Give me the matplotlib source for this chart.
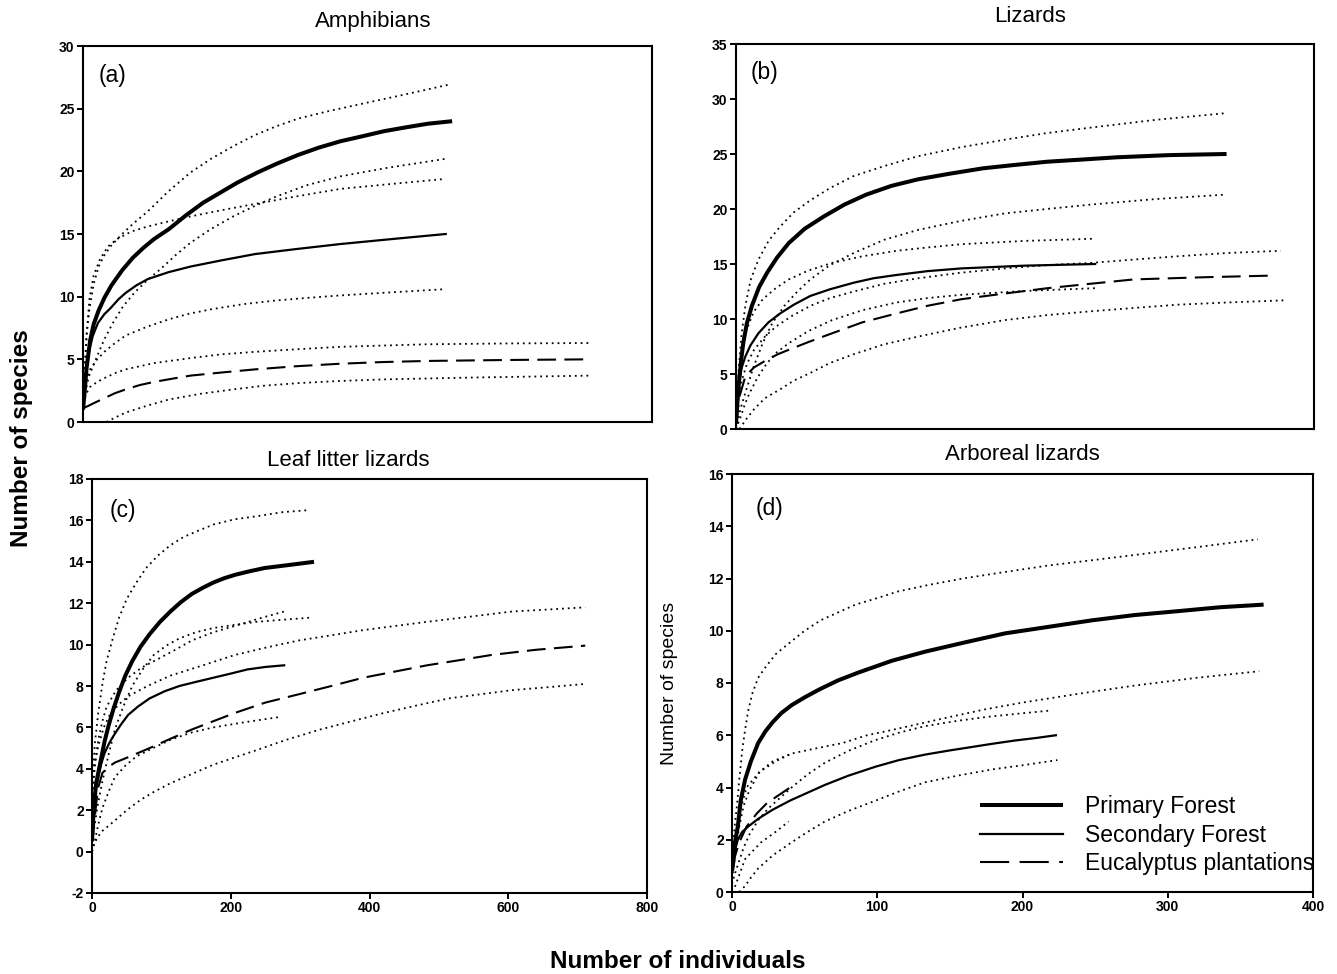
import matplotlib
matplotlib.use("Agg")
import matplotlib.pyplot as plt
from matplotlib.lines import Line2D

plt.rcParams['font.family'] = ['Liberation Sans', 'DejaVu Sans']

W, H = 1337, 974

# ---------------- (a) Amphibians ----------------
amph_pf_x = [0, 2, 5, 10, 15, 22, 30, 40, 55, 70, 85, 100, 121, 145, 169, 193, 217, 245, 272, 302, 332, 362, 393, 423, 453, 485, 519]
amph_pf_y = [1.0, 2.2, 4.3, 6.5, 7.8, 8.9, 9.9, 10.9, 12.1, 13.1, 13.9, 14.6, 15.4, 16.5, 17.5, 18.3, 19.1, 19.9, 20.6, 21.3, 21.9, 22.4, 22.8, 23.2, 23.5, 23.8, 24.0]
amph_sf_x = [0, 3, 6, 9, 14, 21, 30, 39, 50, 60, 75, 91, 120, 151, 195, 242, 300, 362, 435, 510]
amph_sf_y = [1.0, 3.1, 4.7, 5.8, 6.9, 7.9, 8.6, 9.1, 9.8, 10.3, 10.9, 11.4, 11.95, 12.4, 12.9, 13.4, 13.8, 14.2, 14.6, 15.0]
amph_ep_x = [0, 8, 15, 30, 45, 60, 80, 100, 125, 151, 195, 242, 300, 362, 420, 483, 600, 713]
amph_ep_y = [1.1, 1.3, 1.5, 1.9, 2.3, 2.6, 2.95, 3.2, 3.45, 3.7, 3.95, 4.2, 4.45, 4.65, 4.78, 4.87, 4.95, 5.0]
amph_pf_hi_x = [0, 2, 5, 9, 15, 22, 30, 40, 55, 70, 91, 120, 151, 180, 211, 242, 272, 302, 345, 393, 450, 513]
amph_pf_hi_y = [1.0, 4.0, 7.0, 9.0, 11.0, 12.4, 13.3, 14.1, 15.0, 15.8, 16.8, 18.4, 19.9, 21.0, 22.0, 22.9, 23.6, 24.2, 24.8, 25.4, 26.1, 26.9]
amph_pf_lo_x = [0, 3, 8, 18, 30, 42, 56, 72, 90, 109, 130, 151, 180, 211, 240, 272, 315, 362, 430, 510]
amph_pf_lo_y = [0.5, 2.3, 3.6, 5.0, 6.6, 7.9, 9.2, 10.3, 11.3, 12.2, 13.3, 14.3, 15.4, 16.4, 17.2, 18.0, 18.9, 19.6, 20.3, 21.0]
amph_sf_hi_x = [0, 2, 5, 9, 15, 24, 35, 48, 68, 91, 120, 151, 195, 242, 300, 362, 435, 510]
amph_sf_hi_y = [1.0, 3.1, 6.8, 9.8, 11.7, 13.0, 14.0, 14.6, 15.2, 15.6, 16.0, 16.4, 16.9, 17.4, 18.0, 18.6, 19.0, 19.4]
amph_sf_lo_x = [0, 3, 10, 20, 30, 45, 60, 90, 121, 150, 181, 225, 272, 315, 362, 435, 510]
amph_sf_lo_y = [1.0, 3.0, 4.2, 5.0, 5.6, 6.3, 6.9, 7.6, 8.2, 8.65, 9.0, 9.4, 9.7, 9.9, 10.1, 10.35, 10.6]
amph_ep_hi_x = [0, 5, 10, 20, 30, 45, 60, 100, 151, 195, 242, 300, 362, 483, 600, 713]
amph_ep_hi_y = [1.5, 2.3, 2.8, 3.2, 3.5, 3.9, 4.2, 4.7, 5.1, 5.4, 5.6, 5.8, 6.0, 6.2, 6.27, 6.3]
amph_ep_lo_x = [33, 45, 60, 90, 121, 165, 211, 255, 302, 360, 423, 550, 713]
amph_ep_lo_y = [0, 0.35, 0.75, 1.3, 1.8, 2.25, 2.6, 2.9, 3.1, 3.27, 3.4, 3.55, 3.7]

# ---------------- (b) Lizards ----------------
liz_pf_x = [0, 2, 4, 7, 10, 15, 22, 32, 43, 57, 73, 95, 121, 150, 180, 215, 252, 295, 342, 385, 431, 480, 527, 600, 679]
liz_pf_y = [0.5, 2.5, 4.2, 6.2, 7.8, 9.6, 11.2, 12.9, 14.2, 15.6, 16.9, 18.2, 19.3, 20.4, 21.3, 22.1, 22.7, 23.2, 23.7, 24.0, 24.3, 24.5, 24.7, 24.9, 25.0]
liz_sf_x = [0, 2, 4, 8, 13, 20, 31, 45, 61, 80, 103, 130, 163, 190, 222, 265, 312, 400, 497]
liz_sf_y = [0.5, 2.8, 4.2, 5.6, 6.6, 7.6, 8.7, 9.7, 10.5, 11.3, 12.1, 12.7, 13.3, 13.7, 14.0, 14.35, 14.6, 14.85, 15.0]
liz_ep_x = [0, 5, 13, 25, 43, 58, 73, 100, 133, 175, 222, 265, 312, 370, 431, 490, 551, 650, 745]
liz_ep_y = [0.5, 3.0, 4.8, 5.6, 6.3, 6.8, 7.2, 7.9, 8.7, 9.7, 10.5, 11.2, 11.8, 12.3, 12.8, 13.2, 13.6, 13.8, 13.95]
liz_pf_hi_x = [0, 2, 4, 8, 13, 20, 31, 45, 61, 80, 103, 130, 163, 205, 252, 310, 372, 430, 491, 580, 676]
liz_pf_hi_y = [0.5, 3.5, 5.7, 8.8, 11.2, 13.5, 15.4, 17.1, 18.4, 19.7, 20.8, 21.9, 23.0, 23.9, 24.8, 25.6, 26.3, 26.9, 27.4, 28.1, 28.7]
liz_pf_lo_x = [0, 6, 13, 24, 37, 50, 67, 85, 103, 130, 163, 205, 252, 310, 372, 430, 491, 580, 676]
liz_pf_lo_y = [0, 1.8, 3.3, 5.6, 7.8, 9.6, 11.2, 12.5, 13.6, 14.9, 16.0, 17.2, 18.1, 18.9, 19.6, 20.0, 20.4, 20.9, 21.3]
liz_sf_hi_x = [0, 4, 8, 13, 24, 37, 55, 73, 100, 133, 175, 222, 265, 312, 400, 497]
liz_sf_hi_y = [0.5, 4.5, 6.8, 8.7, 10.6, 11.8, 12.8, 13.6, 14.4, 15.1, 15.7, 16.2, 16.5, 16.8, 17.1, 17.3]
liz_sf_lo_x = [0, 7, 12, 19, 30, 43, 57, 73, 100, 133, 175, 222, 265, 312, 400, 497]
liz_sf_lo_y = [0, 1.2, 2.2, 3.3, 4.7, 6.0, 7.0, 7.8, 8.9, 9.9, 10.8, 11.5, 11.9, 12.2, 12.55, 12.8]
liz_ep_hi_x = [0, 3, 7, 15, 25, 40, 55, 78, 103, 130, 163, 205, 252, 310, 372, 430, 491, 550, 611, 680, 754]
liz_ep_hi_y = [0.5, 2.5, 4.2, 5.9, 7.2, 8.4, 9.3, 10.3, 11.2, 11.9, 12.5, 13.2, 13.7, 14.2, 14.6, 14.9, 15.1, 15.4, 15.7, 16.0, 16.2]
liz_ep_lo_x = [5, 13, 25, 40, 61, 80, 103, 130, 163, 205, 252, 310, 372, 430, 491, 550, 611, 680, 760]
liz_ep_lo_y = [0, 0.8, 1.8, 2.8, 3.6, 4.4, 5.1, 6.0, 6.8, 7.7, 8.4, 9.2, 9.9, 10.35, 10.7, 11.0, 11.3, 11.5, 11.7]

# ---------------- (c) Leaf litter lizards ----------------
ll_pf_x = [0, 2.5, 6, 12, 18, 24, 31, 39, 48, 58, 70, 83, 98, 113, 128, 144, 160, 175, 190, 206, 228, 249, 285, 320]
ll_pf_y = [0.5, 2.1, 3.3, 4.3, 5.3, 6.1, 6.9, 7.7, 8.5, 9.2, 9.9, 10.5, 11.1, 11.6, 12.05, 12.45, 12.75, 13.0, 13.2, 13.37, 13.55, 13.7, 13.85, 14.0]
ll_sf_x = [0, 1, 4, 9, 13, 18, 25, 33, 42, 52, 66, 83, 105, 126, 150, 175, 200, 224, 250, 277]
ll_sf_y = [0.5, 1.8, 2.8, 3.6, 4.2, 4.75, 5.25, 5.7, 6.15, 6.6, 7.0, 7.4, 7.75, 8.0, 8.2, 8.4, 8.6, 8.8, 8.92, 9.0]
ll_ep_x = [0, 3, 6, 9, 15, 24, 33, 55, 83, 113, 144, 175, 206, 250, 298, 345, 391, 437, 483, 530, 576, 640, 711]
ll_ep_y = [0.5, 1.3, 2.3, 3.1, 3.8, 4.1, 4.3, 4.6, 5.0, 5.45, 5.9, 6.3, 6.7, 7.2, 7.6, 8.0, 8.4, 8.7, 9.0, 9.25, 9.5, 9.75, 9.95]
ll_pf_hi_x = [0, 1, 4, 9, 15, 21, 30, 39, 50, 64, 78, 95, 113, 132, 153, 175, 205, 237, 275, 314]
ll_pf_hi_y = [0.5, 3.4, 5.2, 6.7, 8.1, 9.2, 10.3, 11.3, 12.2, 13.0, 13.7, 14.3, 14.8, 15.2, 15.5, 15.8, 16.05, 16.2, 16.4, 16.5]
ll_pf_lo_x = [0, 2.5, 8, 15, 24, 33, 45, 58, 73, 89, 107, 126, 150, 175, 205, 237, 275, 314]
ll_pf_lo_y = [0, 1.0, 2.2, 3.4, 4.7, 5.9, 7.0, 8.0, 8.8, 9.5, 9.95, 10.3, 10.6, 10.8, 10.95, 11.1, 11.2, 11.3]
ll_sf_hi_x = [0, 1, 4, 9, 15, 21, 35, 52, 72, 95, 120, 144, 175, 206, 240, 277]
ll_sf_hi_y = [0.5, 2.6, 4.1, 5.4, 6.3, 7.0, 7.8, 8.4, 8.9, 9.3, 9.75, 10.2, 10.6, 10.9, 11.25, 11.6]
ll_sf_lo_x = [0, 4, 9, 15, 24, 33, 48, 64, 88, 113, 143, 175, 220, 270]
ll_sf_lo_y = [0, 0.5, 1.3, 2.1, 2.9, 3.6, 4.15, 4.6, 5.0, 5.4, 5.75, 6.0, 6.25, 6.5]
ll_ep_hi_x = [0, 1, 4, 9, 17, 27, 40, 52, 80, 113, 160, 206, 250, 298, 345, 391, 437, 483, 545, 606, 660, 711]
ll_ep_hi_y = [0.5, 3.4, 4.3, 5.1, 6.0, 6.7, 7.15, 7.5, 8.0, 8.5, 9.0, 9.5, 9.85, 10.2, 10.45, 10.7, 10.9, 11.1, 11.35, 11.6, 11.7, 11.8]
ll_ep_lo_x = [0, 2.5, 8, 15, 24, 33, 50, 70, 90, 113, 144, 175, 206, 237, 280, 329, 375, 421, 467, 514, 560, 606, 660, 711]
ll_ep_lo_y = [0, 0.3, 0.7, 1.0, 1.25, 1.5, 2.0, 2.5, 2.9, 3.3, 3.75, 4.2, 4.55, 4.9, 5.4, 5.9, 6.3, 6.7, 7.05, 7.4, 7.6, 7.8, 7.95, 8.1]

# ---------------- (d) Arboreal lizards ----------------
arb_pf_x = [0, 1, 2, 4, 6, 9, 13, 18, 23, 28, 34, 41, 50, 60, 73, 87, 110, 133, 160, 188, 218, 248, 277, 307, 336, 366]
arb_pf_y = [0.8, 1.2, 1.9, 2.5, 3.5, 4.3, 5.0, 5.7, 6.15, 6.5, 6.85, 7.15, 7.45, 7.75, 8.1, 8.4, 8.85, 9.2, 9.55, 9.9, 10.15, 10.4, 10.6, 10.75, 10.9, 11.0]
arb_sf_x = [0, 2, 4, 7, 11, 18, 28, 40, 52, 64, 80, 99, 115, 133, 150, 165, 180, 195, 210, 223]
arb_sf_y = [1.0, 1.6, 2.0, 2.3, 2.5, 2.8, 3.15, 3.5, 3.8, 4.1, 4.45, 4.8, 5.05, 5.26, 5.42, 5.55, 5.68, 5.8, 5.9, 6.0]
arb_ep_x = [0, 5, 10, 17, 24, 32, 40]
arb_ep_y = [1.0, 1.9, 2.5, 3.0, 3.4, 3.7, 4.0]
arb_pf_hi_x = [0, 1, 2, 3.4, 5, 7, 9, 11, 14, 18, 23, 30, 41, 50, 61, 73, 85, 100, 114, 135, 159, 188, 218, 248, 277, 320, 362]
arb_pf_hi_y = [1.0, 2.0, 2.6, 3.3, 4.3, 5.4, 6.2, 6.9, 7.6, 8.2, 8.6, 9.1, 9.6, 10.0, 10.4, 10.7, 11.0, 11.25, 11.5, 11.75, 12.0, 12.25, 12.5, 12.7, 12.9, 13.2, 13.5]
arb_pf_lo_x = [0, 1.5, 3, 5, 8, 12, 19, 28, 41, 58, 76, 93, 110, 130, 150, 175, 200, 240, 277, 320, 363]
arb_pf_lo_y = [0.5, 1.1, 1.8, 2.5, 3.3, 3.9, 4.6, 5.0, 5.3, 5.5, 5.7, 6.0, 6.2, 6.45, 6.7, 7.0, 7.25, 7.6, 7.9, 8.2, 8.45]
arb_sf_hi_x = [0, 2, 5, 8, 12, 18, 25, 33, 41, 52, 64, 80, 98, 115, 133, 155, 175, 198, 220]
arb_sf_hi_y = [0.3, 0.7, 1.2, 1.7, 2.2, 2.75, 3.2, 3.6, 4.0, 4.5, 4.95, 5.4, 5.8, 6.1, 6.35, 6.55, 6.7, 6.83, 6.95]
arb_sf_lo_x = [5, 9, 13, 18, 28, 41, 52, 64, 80, 99, 115, 133, 155, 180, 200, 224]
arb_sf_lo_y = [0, 0.23, 0.55, 0.9, 1.4, 1.9, 2.3, 2.7, 3.1, 3.5, 3.85, 4.2, 4.45, 4.7, 4.85, 5.05]
arb_ep_hi_x = [0, 5, 10, 19, 30, 41]
arb_ep_hi_y = [1.0, 3.0, 4.0, 4.6, 5.0, 5.3]
arb_ep_lo_x = [2, 9, 20, 30, 39]
arb_ep_lo_y = [0.2, 1.26, 1.9, 2.3, 2.7]

legend_labels = ["Primary Forest", "Secondary Forest", "Eucalyptus plantations"]

# line styles
PF = dict(color='black', lw=2.9, solid_capstyle='butt', solid_joinstyle='round')
SF = dict(color='black', lw=1.6, solid_joinstyle='round')
EP = dict(color='black', lw=1.5, dashes=(9, 4))
CI = dict(color='black', lw=1.3, dashes=(1, 2.2))


def px_rect(x0, y0, x1, y1):
    # pixel box (top-left origin) -> figure fraction rect
    return [x0 / W, 1 - y1 / H, (x1 - x0) / W, (y1 - y0) / H]


def fx(px):
    return px / W


def fy(py):
    return 1 - py / H


def setup(ax, xlim, ylim, yticks, xticks=None):
    ax.set_xlim(*xlim)
    ax.set_ylim(*ylim)
    ax.set_yticks(yticks)
    ax.set_yticklabels([str(t) for t in yticks], fontsize=10, fontweight='bold')
    if xticks is None:
        ax.set_xticks([])
    else:
        ax.set_xticks(xticks)
        ax.set_xticklabels([str(t) for t in xticks], fontsize=10, fontweight='bold')
    ax.tick_params(direction='out', length=4, width=1.4, pad=2)
    for s in ax.spines.values():
        s.set_linewidth(1.5)


def draw(ax, curves):
    for x, y, st in curves:
        ax.plot(x, y, **st)


fig = plt.figure(figsize=(W / 100, H / 100), dpi=100)

ax_a = fig.add_axes(px_rect(83, 46, 652, 422))
ax_b = fig.add_axes(px_rect(736, 44, 1314, 429))
ax_c = fig.add_axes(px_rect(92, 479, 647, 893))
ax_d = fig.add_axes(px_rect(732, 474, 1313, 892))

draw(ax_a, [
    (amph_pf_hi_x, amph_pf_hi_y, CI), (amph_pf_lo_x, amph_pf_lo_y, CI),
    (amph_sf_hi_x, amph_sf_hi_y, CI), (amph_sf_lo_x, amph_sf_lo_y, CI),
    (amph_ep_hi_x, amph_ep_hi_y, CI), (amph_ep_lo_x, amph_ep_lo_y, CI),
    (amph_pf_x, amph_pf_y, PF), (amph_sf_x, amph_sf_y, SF), (amph_ep_x, amph_ep_y, EP),
])
setup(ax_a, (0, 800), (0, 30), list(range(0, 31, 5)))

draw(ax_b, [
    (liz_pf_hi_x, liz_pf_hi_y, CI), (liz_pf_lo_x, liz_pf_lo_y, CI),
    (liz_sf_hi_x, liz_sf_hi_y, CI), (liz_sf_lo_x, liz_sf_lo_y, CI),
    (liz_ep_hi_x, liz_ep_hi_y, CI), (liz_ep_lo_x, liz_ep_lo_y, CI),
    (liz_pf_x, liz_pf_y, PF), (liz_sf_x, liz_sf_y, SF), (liz_ep_x, liz_ep_y, EP),
])
setup(ax_b, (0, 800), (0, 35), list(range(0, 36, 5)))

draw(ax_c, [
    (ll_pf_hi_x, ll_pf_hi_y, CI), (ll_pf_lo_x, ll_pf_lo_y, CI),
    (ll_sf_hi_x, ll_sf_hi_y, CI), (ll_sf_lo_x, ll_sf_lo_y, CI),
    (ll_ep_hi_x, ll_ep_hi_y, CI), (ll_ep_lo_x, ll_ep_lo_y, CI),
    (ll_pf_x, ll_pf_y, PF), (ll_sf_x, ll_sf_y, SF), (ll_ep_x, ll_ep_y, EP),
])
setup(ax_c, (0, 800), (-2, 18), list(range(-2, 19, 2)), xticks=list(range(0, 801, 200)))

draw(ax_d, [
    (arb_pf_hi_x, arb_pf_hi_y, CI), (arb_pf_lo_x, arb_pf_lo_y, CI),
    (arb_sf_hi_x, arb_sf_hi_y, CI), (arb_sf_lo_x, arb_sf_lo_y, CI),
    (arb_ep_hi_x, arb_ep_hi_y, CI), (arb_ep_lo_x, arb_ep_lo_y, CI),
    (arb_pf_x, arb_pf_y, PF), (arb_sf_x, arb_sf_y, SF), (arb_ep_x, arb_ep_y, EP),
])
setup(ax_d, (0, 400), (0, 16), list(range(0, 17, 2)), xticks=list(range(0, 401, 100)))

# titles and panel letters
fig.text(fx(373), fy(22), "Amphibians", ha='center', va='center', fontsize=16)
fig.text(fx(1030), fy(17), "Lizards", ha='center', va='center', fontsize=16)
fig.text(fx(348), fy(460), "Leaf litter lizards", ha='center', va='center', fontsize=16)
fig.text(fx(1022), fy(455), "Arboreal lizards", ha='center', va='center', fontsize=16)

fig.text(fx(99), fy(75), "(a)", ha='left', va='center', fontsize=16.5)
fig.text(fx(751), fy(73), "(b)", ha='left', va='center', fontsize=16.5)
fig.text(fx(110), fy(511), "(c)", ha='left', va='center', fontsize=16.5)
fig.text(fx(756), fy(509), "(d)", ha='left', va='center', fontsize=16.5)

# axis labels
fig.text(fx(22), fy(438), "Number of species", rotation=90, ha='center', va='center',
         fontsize=17.5, fontweight='bold')
fig.text(fx(678), fy(961), "Number of individuals", ha='center', va='center',
         fontsize=17.5, fontweight='bold')
fig.text(fx(670), fy(683), "Number of species", rotation=90, ha='center', va='center',
         fontsize=14)

# legend (the dashed handle uses longer dashes, as in the original key)
handles = [Line2D([], [], **PF), Line2D([], [], **SF),
           Line2D([], [], color='black', lw=1.5, dashes=(14, 5))]
ax_d.legend(handles, legend_labels, loc='upper left',
            bbox_to_anchor=(fx(980), fy(795)), bbox_transform=fig.transFigure,
            frameon=False, fontsize=16.5, handlelength=3.6, handletextpad=1.0,
            labelspacing=0.25, borderpad=0, borderaxespad=0)

fig.savefig("out.png", dpi=100)
